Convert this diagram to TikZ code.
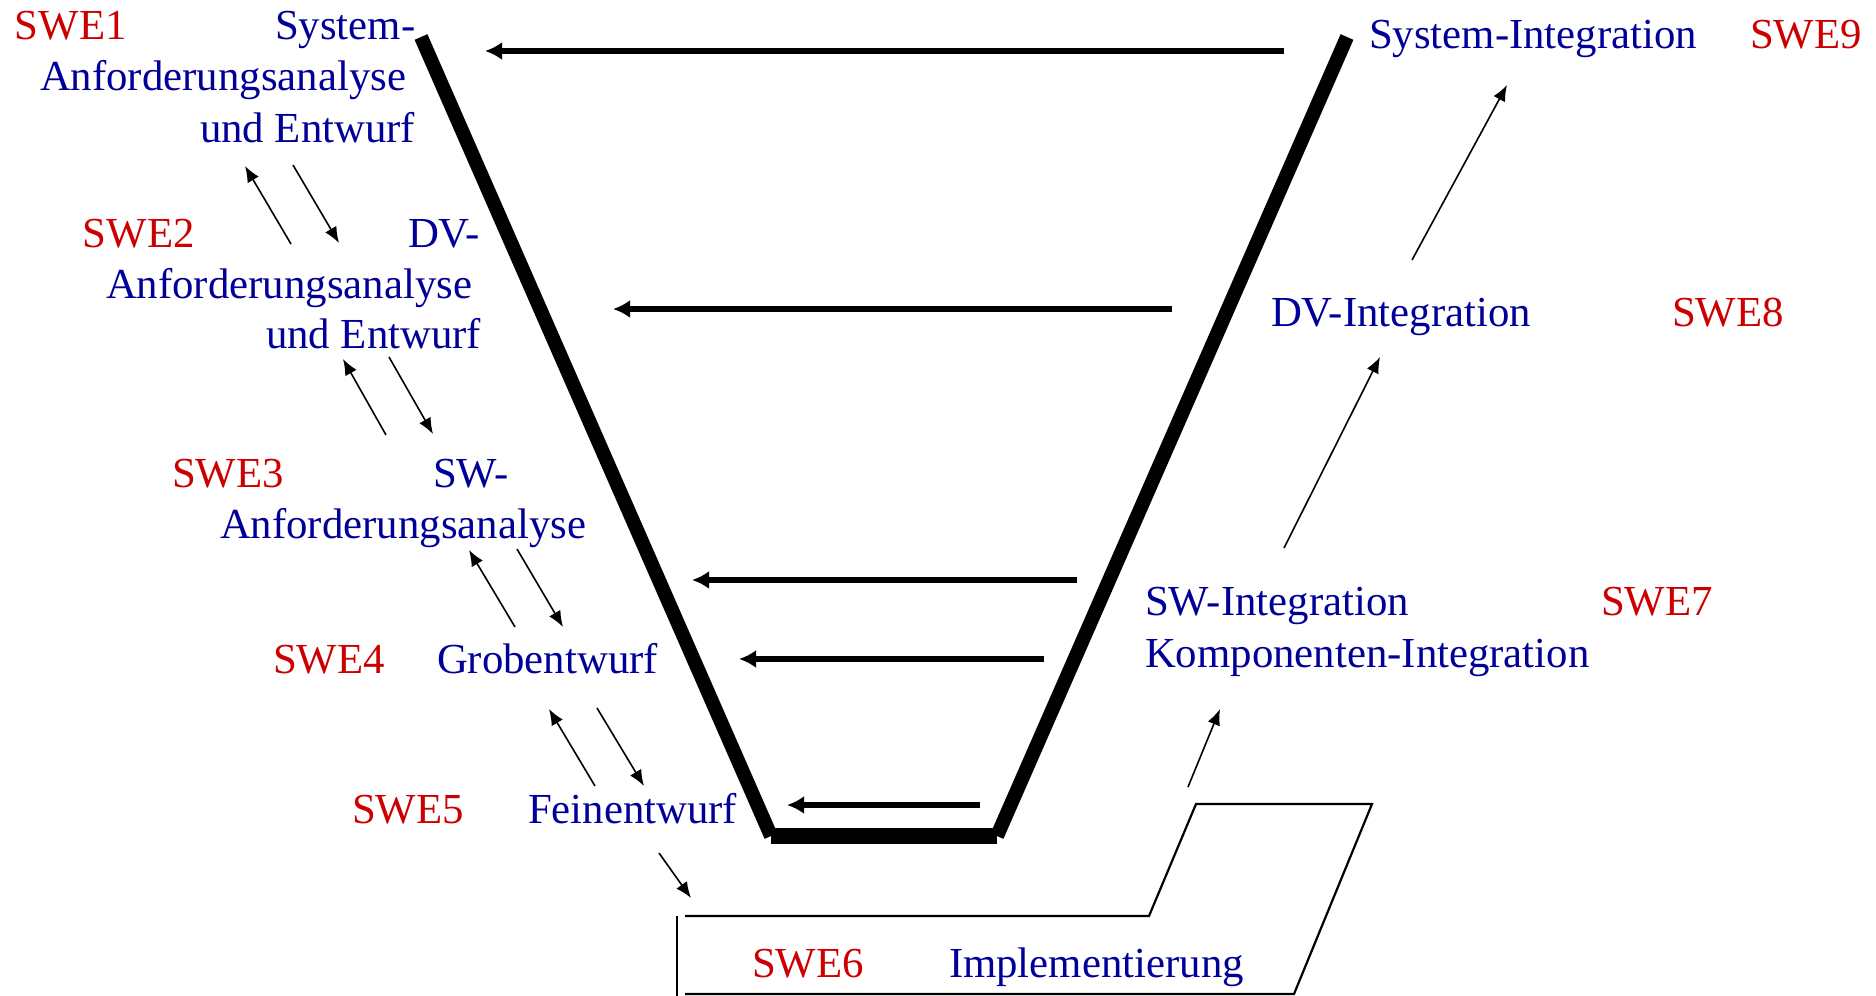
\documentclass[tikz,border=0pt]{standalone}
\usepackage{fontspec}
\setmainfont{Liberation Serif}
\usetikzlibrary{arrows.meta}
\definecolor{swered}{RGB}{204,0,0}
\definecolor{sweblue}{RGB}{0,0,153}
\begin{document}
\begin{tikzpicture}[x=0.5pt,y=-0.5pt,
  lbl/.style={inner sep=0pt, outer sep=0pt, anchor=base west, font=\fontsize{21.4}{25}\selectfont},
  code/.style={lbl, text=swered},
  phase/.style={lbl, text=sweblue},
  vline/.style={line width=7pt},
  vbar/.style={line width=8pt},
  thickarrow/.style={line width=2.75pt, -{Latex[length=8.5pt,width=9pt]}},
  thinarrow/.style={line width=0.8pt, -{Latex[length=8pt,width=6.5pt]}},
  implline/.style={line width=1.1pt}]
\useasboundingbox (0,0) rectangle (1876,996);

% V shape
\coordinate (vlt) at (421,37);
\coordinate (vlb) at (771,836);
\coordinate (vrb) at (997,836);
\coordinate (vrt) at (1347,37);
\draw[vline] (vlt) -- (vlb);
\draw[vbar] (vlb) -- (vrb);
\draw[vline] (vrb) -- (vrt);

% horizontal thick arrows
\coordinate (h1s) at (1284,51);  \coordinate (h1e) at (485,51);
\coordinate (h2s) at (1172,309); \coordinate (h2e) at (613,309);
\coordinate (h3s) at (1077,580); \coordinate (h3e) at (692,580);
\coordinate (h4s) at (1044,659); \coordinate (h4e) at (739,659);
\coordinate (h5s) at (980,805);  \coordinate (h5e) at (787,805);
\draw[thickarrow] (h1s) -- (h1e);
\draw[thickarrow] (h2s) -- (h2e);
\draw[thickarrow] (h3s) -- (h3e);
\draw[thickarrow] (h4s) -- (h4e);
\draw[thickarrow] (h5s) -- (h5e);

% implementation shape
\coordinate (iv1) at (677,916);
\coordinate (iv2) at (677,998);
\coordinate (ip1) at (685,916);
\coordinate (ip2) at (1149,916);
\coordinate (ip3) at (1196,804);
\coordinate (ip4) at (1372,804);
\coordinate (ip5) at (1294,994);
\coordinate (ip6) at (685,994);
\draw[implline] (iv1) -- (iv2);
\draw[implline] (ip1) -- (ip2) -- (ip3) -- (ip4) -- (ip5) -- (ip6);

% texts
\node[code]  (swe1) at (15,39) {SWE1};
\node[phase] (t1a) at (275,39) {System-};
\node[phase] (t1b) at (40,90) {Anforderungsanalyse};
\node[phase] (t1c) at (200,142) {und Entwurf};

\node[code]  (swe2) at (83,247) {SWE2};
\node[phase] (t2a) at (408,247) {DV-};
\node[phase] (t2b) at (106,298) {Anforderungsanalyse};
\node[phase] (t2c) at (266,348) {und Entwurf};

\node[code]  (swe3) at (172,487) {SWE3};
\node[phase] (t3a) at (433,487) {SW-};
\node[phase] (t3b) at (220,538) {Anforderungsanalyse};

\node[code]  (swe4) at (273,673) {SWE4};
\node[phase] (t4) at (437,673) {Grobentwurf};

\node[code]  (swe5) at (352,823) {SWE5};
\node[phase] (t5) at (528,823) {Feinentwurf};

\node[code]  (swe6) at (752,977) {SWE6};
\node[phase] (t6) at (949,977) {Implementierung};

\node[phase] (t7a) at (1145,615) {SW-Integration};
\node[phase] (t7b) at (1145,667) {Komponenten-Integration};
\node[code]  (swe7) at (1601,615) {SWE7};

\node[phase] (t8) at (1271,326) {DV-Integration};
\node[code]  (swe8) at (1672,326) {SWE8};

\node[phase] (t9) at (1369,48) {System-Integration};
\node[code]  (swe9) at (1750,48) {SWE9};

% thin arrows
\coordinate (a12us) at (291,244); \coordinate (a12ue) at (245,166);
\coordinate (a12ds) at (293,165); \coordinate (a12de) at (339,243);
\coordinate (a23us) at (386,435); \coordinate (a23ue) at (343,359);
\coordinate (a23ds) at (389,357); \coordinate (a23de) at (433,434);
\coordinate (a34us) at (515,627); \coordinate (a34ue) at (469,550);
\coordinate (a34ds) at (517,549); \coordinate (a34de) at (563,627);
\coordinate (a45us) at (595,786); \coordinate (a45ue) at (549,709);
\coordinate (a45ds) at (597,708); \coordinate (a45de) at (644,786);
\coordinate (a56s) at (659,853);  \coordinate (a56e) at (691,898);
\coordinate (a67s) at (1188,787); \coordinate (a67e) at (1220,709);
\coordinate (a78s) at (1284,548); \coordinate (a78e) at (1380,357);
\coordinate (a89s) at (1412,260); \coordinate (a89e) at (1507,85);
\draw[thinarrow] (a12us) -- (a12ue);
\draw[thinarrow] (a12ds) -- (a12de);
\draw[thinarrow] (a23us) -- (a23ue);
\draw[thinarrow] (a23ds) -- (a23de);
\draw[thinarrow] (a34us) -- (a34ue);
\draw[thinarrow] (a34ds) -- (a34de);
\draw[thinarrow] (a45us) -- (a45ue);
\draw[thinarrow] (a45ds) -- (a45de);
\draw[thinarrow] (a56s) -- (a56e);
\draw[thinarrow] (a67s) -- (a67e);
\draw[thinarrow] (a78s) -- (a78e);
\draw[thinarrow] (a89s) -- (a89e);
\end{tikzpicture}
\end{document}
